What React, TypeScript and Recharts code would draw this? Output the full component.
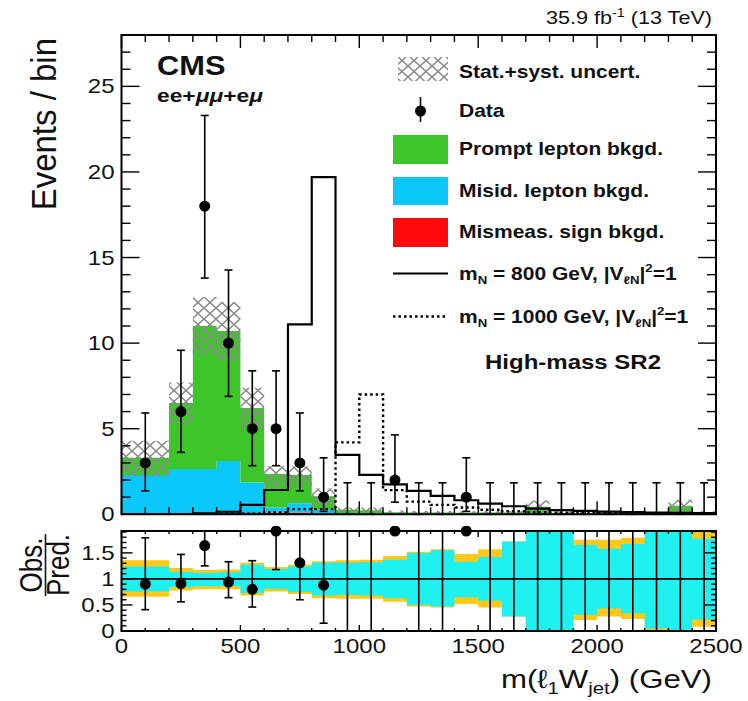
import React from 'react';
import {
  ComposedChart, Area, Line, Scatter, ErrorBar, XAxis, YAxis, ReferenceArea, ReferenceLine,
} from 'recharts';

// ---------------- data ----------------
const BIN_EDGES = [0, 200, 300, 400, 500, 600, 700, 800, 900, 1000, 1100, 1200, 1300, 1400, 1500, 1600, 1700, 1800, 1900, 2000, 2100, 2200, 2300, 2400, 2500];
const BIN_CENTERS = [100, 250, 350, 450, 550, 650, 750, 850, 950, 1050, 1150, 1250, 1350, 1450, 1550, 1650, 1750, 1850, 1950, 2050, 2150, 2250, 2350, 2450];

const MISMEAS = [0, 0, 0.03, 0.06, 0.08, 0.1, 0.1, 0.06, 0.04, 0.03, 0.03, 0.02, 0.02, 0.02, 0.02, 0.02, 0.02, 0.01, 0.01, 0.01, 0.01, 0.01, 0.02, 0.01];
const MISID = [2.3, 2.65, 2.62, 3.05, 1.78, 0.3, 0.55, 0.2, 0.02, 0.02, 0.01, 0.01, 0.01, 0.01, 0.01, 0.01, 0.02, 0.01, 0, 0, 0, 0, 0.02, 0];
const PROMPT = [1.0, 3.85, 8.35, 7.6, 4.35, 1.95, 1.65, 0.8, 0.2, 0.18, 0.08, 0.07, 0.07, 0.06, 0.07, 0.07, 0.4, 0.06, 0.07, 0.05, 0.04, 0.04, 0.46, 0.07];
const UNC_LO = [2.2, 5.3, 9.3, 9.0, 4.9, 1.6, 1.6, 0.4, 0.1, 0.1, 0.02, 0.02, 0.02, 0.02, 0.02, 0.02, 0.1, 0.02, 0.02, 0.02, 0.02, 0.02, 0.1, 0.02];
const UNC_HI = [4.3, 7.7, 12.7, 12.4, 7.4, 2.8, 2.8, 1.5, 0.4, 0.4, 0.22, 0.2, 0.2, 0.18, 0.2, 0.2, 0.8, 0.18, 0.18, 0.15, 0.14, 0.14, 0.85, 0.18];
const SIG800 = [0, 0, 0.05, 0.15, 0.55, 1.42, 11.1, 19.7, 3.47, 2.3, 1.75, 1.37, 1.08, 0.82, 0.62, 0.47, 0.33, 0.24, 0.2, 0.16, 0.13, 0.1, 0.08, 0.07];
const SIG1000 = [0, 0, 0, 0.02, 0.05, 0.12, 0.3, 0.3, 4.2, 7.0, 1.41, 0.74, 0.55, 0.4, 0.27, 0.18, 0.12, 0.1, 0.08, 0.06, 0.05, 0.04, 0.03, 0.03];

const DATA_N = [3, 6, 18, 10, 5, 5, 3, 1, 0, 0, 2, 0, 0, 1, 0, 0, 0, 0, 0, 0, 0, 0, 0, 0];
const DATA_LO = [1.37, 3.62, 13.8, 6.89, 2.84, 2.84, 1.37, 0.17, 0, 0, 0.71, 0, 0, 0.17, 0, 0, 0, 0, 0, 0, 0, 0, 0, 0];
const DATA_HI = [5.92, 9.58, 23.3, 14.27, 8.38, 8.38, 5.92, 3.3, 1.84, 1.84, 4.64, 1.84, 1.84, 3.3, 1.84, 1.84, 1.84, 1.84, 1.84, 1.84, 1.84, 1.84, 1.84, 1.84];

const RATIO = [0.9, 0.91, 1.64, 0.94, 0.8, 1.92, 1.31, 0.88, 0, 0, 1.92, 0, 0, 1.92, 0, 0, 0, 0, 0, 0, 0, 0, 0, 0];
const RATIO_LO = [0.41, 0.56, 1.25, 0.64, 0.46, 1.18, 0.6, 0.15, 0, 0, 1.92, 0, 0, 1.92, 0, 0, 0, 0, 0, 0, 0, 0, 0, 0];
const RATIO_HI = [1.79, 1.47, 1.92, 1.33, 1.35, 1.92, 1.92, 1.92, 1.92, 1.92, 1.92, 1.92, 1.92, 1.92, 1.92, 1.92, 1.92, 1.92, 1.92, 1.92, 1.92, 1.92, 1.92, 1.92];

const BAND_SYST_LO = [0.66, 0.78, 0.8, 0.8, 0.68, 0.76, 0.71, 0.63, 0.62, 0.62, 0.56, 0.47, 0.45, 0.52, 0.45, 0.28, 0, 0, 0.21, 0.28, 0.23, 0, 0, 0.08];
const BAND_STAT_LO = [0.76, 0.84, 0.86, 0.86, 0.73, 0.81, 0.75, 0.68, 0.69, 0.68, 0.63, 0.5, 0.47, 0.65, 0.58, 0.28, 0, 0, 0.31, 0.43, 0.34, 0.05, 0, 0.22];
const BAND_STAT_HI = [1.24, 1.14, 1.12, 1.13, 1.27, 1.19, 1.24, 1.31, 1.31, 1.32, 1.37, 1.5, 1.55, 1.33, 1.42, 1.72, 1.92, 1.92, 1.65, 1.58, 1.67, 1.92, 1.92, 1.77];
const BAND_SYST_HI = [1.36, 1.21, 1.17, 1.18, 1.31, 1.23, 1.27, 1.34, 1.36, 1.37, 1.44, 1.52, 1.57, 1.48, 1.57, 1.72, 1.92, 1.92, 1.75, 1.75, 1.79, 1.92, 1.92, 1.92];

const X_MAJOR = [0, 500, 1000, 1500, 2000, 2500];
const X_TICKS = Array.from({ length: 26 }, (_, i) => i * 100);
const MAIN_Y_MAJOR = [0, 5, 10, 15, 20, 25];
const MAIN_Y_TICKS = Array.from({ length: 28 }, (_, i) => i);
const RATIO_Y_MAJOR = [0, 0.5, 1, 1.5];
const RATIO_Y_TICKS = Array.from({ length: 20 }, (_, i) => Math.round(i * 10) / 100);

// ---------------- tables built from the arrays ----------------
const NB = BIN_CENTERS.length;
const mainTable = BIN_EDGES.map((x, i) => {
  const b = Math.min(i, NB - 1);
  return {
    x,
    mis: MISMEAS[b],
    fake: MISID[b],
    prompt: PROMPT[b],
    unc: [UNC_LO[b], UNC_HI[b]],
    s800: SIG800[b],
    s1000: SIG1000[b],
  };
});
const dataPts = BIN_CENTERS.map((x, i) => ({
  x,
  y: DATA_N[i],
  err: [DATA_N[i] - DATA_LO[i], DATA_HI[i] - DATA_N[i]],
}));
const ratioTable = BIN_EDGES.map((x, i) => {
  const b = Math.min(i, NB - 1);
  return { x, syst: [BAND_SYST_LO[b], BAND_SYST_HI[b]], stat: [BAND_STAT_LO[b], BAND_STAT_HI[b]] };
});
const ratioPts = BIN_CENTERS.map((x, i) => ({
  x,
  y: RATIO[i],
  err: [RATIO[i] - RATIO_LO[i], RATIO_HI[i] - RATIO[i]],
}));

// ---------------- style / layout ----------------
const FONT = "'Liberation Sans', Arial, Helvetica, sans-serif";
const SX = 1.2;
const C_GREEN = '#3cc62a';
const C_BLUE = '#0ac8fa';
const C_RED = '#ff0a0a';
const C_CYAN = '#1ff0f0';
const C_YELLOW = '#ffc81a';

const W = 748;
const PLOT_L = 121.5;
const PLOT_R = 716;
const MAIN_H = 526;
const MAIN_TOP = 35;
const MAIN_BOTTOM = 514.3;
const RATIO_PAGE_TOP = 526;
const RATIO_H = 175;
const RATIO_TOP = 5;
const RATIO_BOTTOM = 105;

const ST = ({ x, y, size, anchor = 'start', weight = 'normal', rotate = false, sx = SX, children }: any) => {
  const tr = rotate
    ? `translate(${x},${y}) rotate(-90) scale(1,${sx})`
    : `translate(${x},${y}) scale(${sx},1)`;
  return (
    <text transform={tr} x={0} y={0} fontSize={size} textAnchor={anchor} fontWeight={weight} fontFamily={FONT} fill="#111">
      {children}
    </text>
  );
};

const makeXTick = (o: any) => (p: any) => {
  const v = p.payload.value;
  const isMaj = X_MAJOR.includes(v);
  const len = isMaj ? o.maj : o.min;
  return (
    <g>
      <line x1={p.x} x2={p.x} y1={p.y} y2={p.y - len} stroke="#000" strokeWidth={1.4} />
      <line x1={p.x} x2={p.x} y1={o.top} y2={o.top + len} stroke="#000" strokeWidth={1.4} />
      {o.labels && isMaj ? <ST x={p.x} y={p.y + o.labelDy} size={20} anchor="middle">{String(v)}</ST> : null}
    </g>
  );
};

const makeYTick = (o: any) => (p: any) => {
  const v = p.payload.value;
  const isMaj = o.major.some((m: number) => Math.abs(m - v) < 1e-9);
  const len = isMaj ? o.maj : o.min;
  return (
    <g>
      <line x1={p.x} x2={p.x + len} y1={p.y} y2={p.y} stroke="#000" strokeWidth={1.4} />
      <line x1={o.right} x2={o.right - len} y1={p.y} y2={p.y} stroke="#000" strokeWidth={1.4} />
      {isMaj ? <ST x={p.x - 7} y={p.y + 7} size={20} anchor="end">{String(v)}</ST> : null}
    </g>
  );
};

const Marker = (p: any) =>
  p && p.payload && p.payload.y > 0 ? <circle cx={p.cx} cy={p.cy} r={5.5} fill="#000" /> : <g />;

function MainChart() {
  return (
    <ComposedChart
      width={W}
      height={MAIN_H}
      data={mainTable}
      margin={{ top: MAIN_TOP, left: PLOT_L - 1, right: W - PLOT_R, bottom: MAIN_H - MAIN_BOTTOM - 1 }}
    >
      <Area dataKey="mis" stackId="bg" type="stepAfter" fill={C_RED} fillOpacity={1} stroke="none" isAnimationActive={false} dot={false} activeDot={false} />
      <Area dataKey="fake" stackId="bg" type="stepAfter" fill={C_BLUE} fillOpacity={1} stroke="none" isAnimationActive={false} dot={false} activeDot={false} />
      <Area dataKey="prompt" stackId="bg" type="stepAfter" fill={C_GREEN} fillOpacity={1} stroke="none" isAnimationActive={false} dot={false} activeDot={false} />
      <Area dataKey="unc" type="stepAfter" fill="url(#hatchPat)" fillOpacity={1} stroke="none" isAnimationActive={false} dot={false} activeDot={false} />
      <Line dataKey="s800" type="stepAfter" stroke="#000" strokeWidth={2.2} dot={false} activeDot={false} isAnimationActive={false} />
      <Line dataKey="s1000" type="stepAfter" stroke="#000" strokeWidth={2.4} strokeDasharray="2.5 3" dot={false} activeDot={false} isAnimationActive={false} />
      <Scatter data={dataPts} dataKey="y" shape={Marker} isAnimationActive={false}>
        <ErrorBar dataKey="err" direction="y" width={4} stroke="#000" strokeWidth={1.6} isAnimationActive={false} />
      </Scatter>
      <ReferenceArea x1={0} x2={2500} y1={0} y2={28} fill="none" stroke="#000" strokeWidth={2} />
      <XAxis type="number" dataKey="x" domain={[0, 2500]} ticks={X_TICKS} interval={0} allowDataOverflow
        tick={makeXTick({ maj: 13, min: 7, top: MAIN_TOP, labels: false })}
        tickLine={false} axisLine={false} tickSize={0} tickMargin={0} height={1} />
      <YAxis type="number" domain={[0, 28]} ticks={MAIN_Y_TICKS} interval={0} allowDataOverflow
        tick={makeYTick({ maj: 18, min: 9, right: PLOT_R, major: MAIN_Y_MAJOR })}
        tickLine={false} axisLine={false} tickSize={0} tickMargin={0} width={1} />
    </ComposedChart>
  );
}

function RatioChart() {
  return (
    <ComposedChart
      width={W}
      height={RATIO_H}
      data={ratioTable}
      margin={{ top: RATIO_TOP, left: PLOT_L - 1, right: W - PLOT_R, bottom: RATIO_H - RATIO_BOTTOM - 1 }}
    >
      <Area dataKey="syst" type="stepAfter" fill={C_YELLOW} fillOpacity={1} stroke="none" isAnimationActive={false} dot={false} activeDot={false} />
      <Area dataKey="stat" type="stepAfter" fill={C_CYAN} fillOpacity={1} stroke="none" isAnimationActive={false} dot={false} activeDot={false} />
      <ReferenceLine y={1} stroke="#000" strokeWidth={1.6} />
      <Scatter data={ratioPts} dataKey="y" shape={Marker} isAnimationActive={false}>
        <ErrorBar dataKey="err" direction="y" width={4} stroke="#000" strokeWidth={1.6} isAnimationActive={false} />
      </Scatter>
      <ReferenceArea x1={0} x2={2500} y1={0} y2={1.92} fill="none" stroke="#000" strokeWidth={2} />
      <XAxis type="number" dataKey="x" domain={[0, 2500]} ticks={X_TICKS} interval={0} allowDataOverflow
        tick={makeXTick({ maj: 6, min: 3, top: RATIO_TOP, labels: true, labelDy: 22 })}
        tickLine={false} axisLine={false} tickSize={0} tickMargin={0} height={1} />
      <YAxis type="number" domain={[0, 1.92]} ticks={RATIO_Y_TICKS} interval={0}
        tick={makeYTick({ maj: 11, min: 5, right: PLOT_R, major: RATIO_Y_MAJOR })}
        tickLine={false} axisLine={false} tickSize={0} tickMargin={0} width={1} />
    </ComposedChart>
  );
}

function Overlay() {
  const lx = 459;
  return (
    <svg width={W} height={701} style={{ position: 'absolute', left: 0, top: 0, pointerEvents: 'none' }}>
      {/* luminosity */}
      <ST x={712} y={24} size={18} anchor="end">
        35.9 fb<tspan fontSize={12} dy={-7}>-1</tspan><tspan dy={7}> (13 TeV)</tspan>
      </ST>
      {/* CMS labels */}
      <ST x={157} y={75} size={28} weight="bold" sx={1.1}>CMS</ST>
      <ST x={157} y={102} size={19} weight="bold">
        ee+<tspan fontStyle="italic">μμ</tspan>+e<tspan fontStyle="italic">μ</tspan>
      </ST>
      {/* legend */}
      <rect x={398} y={57} width={50} height={24} fill="url(#hatchPat)" />
      <ST x={lx} y={78} size={17.5} weight="bold">Stat.+syst. uncert.</ST>
      <line x1={420.5} x2={420.5} y1={97} y2={122} stroke="#000" strokeWidth={1.6} />
      <circle cx={420.5} cy={111} r={5.5} fill="#000" />
      <ST x={lx} y={117} size={17.5} weight="bold">Data</ST>
      <rect x={393} y={135} width={55} height={29} fill={C_GREEN} />
      <ST x={lx} y={155} size={17.5} weight="bold">Prompt lepton bkgd.</ST>
      <rect x={393} y={177} width={55} height={28} fill={C_BLUE} />
      <ST x={lx} y={197} size={17.5} weight="bold">Misid. lepton bkgd.</ST>
      <rect x={393} y={218} width={55} height={29} fill={C_RED} />
      <ST x={lx} y={238} size={17.5} weight="bold">Mismeas. sign bkgd.</ST>
      <line x1={393} x2={448} y1={273.5} y2={273.5} stroke="#000" strokeWidth={2.2} />
      <ST x={lx} y={280} size={17.5} weight="bold">
        m<tspan fontSize={11} dy={4}>N</tspan><tspan dy={-4}> = 800 GeV, |V</tspan><tspan fontSize={11} dy={4}>ℓN</tspan><tspan dy={-4}>|</tspan><tspan fontSize={11} dy={-8}>2</tspan><tspan dy={8}>=1</tspan>
      </ST>
      <line x1={393} x2={448} y1={316.5} y2={316.5} stroke="#000" strokeWidth={2.4} strokeDasharray="2.5 3" />
      <ST x={lx} y={323} size={17.5} weight="bold">
        m<tspan fontSize={11} dy={4}>N</tspan><tspan dy={-4}> = 1000 GeV, |V</tspan><tspan fontSize={11} dy={4}>ℓN</tspan><tspan dy={-4}>|</tspan><tspan fontSize={11} dy={-8}>2</tspan><tspan dy={8}>=1</tspan>
      </ST>
      <ST x={573} y={369} size={20} weight="bold" anchor="middle">High-mass SR2</ST>
      {/* axis titles */}
      <ST x={56} y={38} size={33} anchor="end" rotate sx={1.08}>Events / bin</ST>
      <ST x={42} y={565} size={26} anchor="middle" rotate>Obs.</ST>
      <line x1={45.5} x2={45.5} y1={534} y2={596} stroke="#111" strokeWidth={1.6} />
      <ST x={69} y={565} size={26} anchor="middle" rotate>Pred.</ST>
      <ST x={712} y={688} size={26} anchor="end">
        m(ℓ<tspan fontSize={17} dy={6}>1</tspan><tspan dy={-6}>W</tspan><tspan fontSize={17} dy={6}>jet</tspan><tspan dy={-6}>) (GeV)</tspan>
      </ST>
    </svg>
  );
}

export default function App() {
  return (
    <div style={{ position: 'absolute', left: 0, top: 0, width: W, height: 701, background: '#fff' }}>
      <svg width={0} height={0} style={{ position: 'absolute' }}>
        <defs>
          <pattern id="hatchPat" patternUnits="userSpaceOnUse" width={12} height={11}>
            <path d="M0,0 L12,11 M12,0 L0,11" stroke="#8a8a8a" strokeWidth={1.5} fill="none" />
          </pattern>
        </defs>
      </svg>
      <div style={{ position: 'absolute', left: 0, top: 0 }}>
        <MainChart />
      </div>
      <div style={{ position: 'absolute', left: 0, top: RATIO_PAGE_TOP }}>
        <RatioChart />
      </div>
      <Overlay />
    </div>
  );
}
